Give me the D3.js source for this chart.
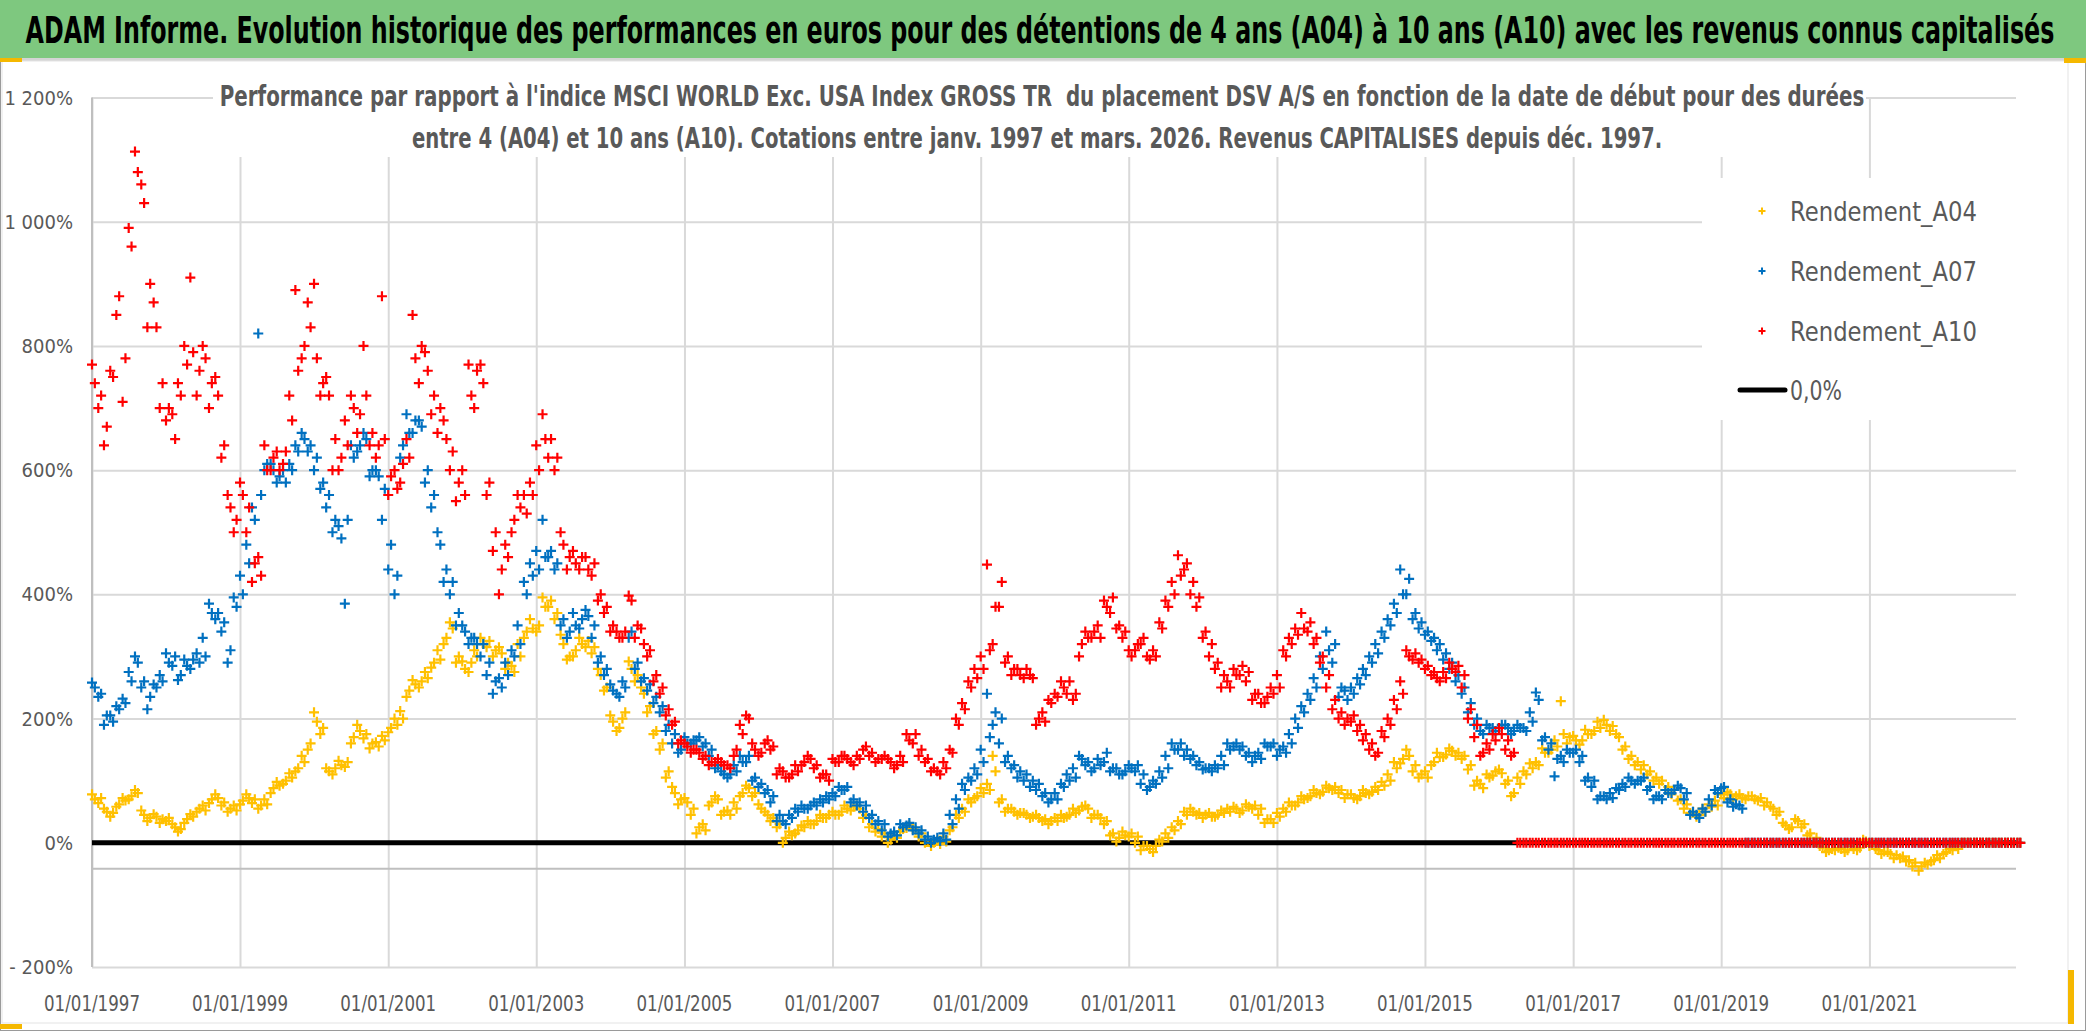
<!DOCTYPE html>
<html>
<head>
<meta charset="utf-8">
<script src="https://cdn.jsdelivr.net/npm/d3@7/dist/d3.min.js"></script>
<style>
body { margin: 0; background: #fff; }
svg { display: block; font-family: "Liberation Sans Narrow", "DejaVu Sans Condensed", sans-serif; }
</style>
</head>
<body>
<div class="chart"></div>
<script>
// two readings per month from Jan 1997: one on the 1st, one on the 15th
var firstMonth = new Date(1997, 0, 1)

var rendA04 = [
  70, 72, 50, 48, 62, 68, 75, 80, 45, 40, 42, 38,
  40, 25, 22, 38, 42, 55, 52, 70, 72, 65, 55, 52,
  68, 72, 70, 60, 62, 88, 92, 100, 105, 120, 130, 160,
  195, 185, 115, 120, 125, 130, 170, 180, 175, 160, 155, 165,
  185, 190, 200, 245, 255, 260, 265, 290, 295, 330, 345, 300,
  280, 290, 300, 320, 325, 310, 305, 290, 275, 300, 340, 345,
  350, 380, 390, 370, 320, 300, 310, 320, 325, 315, 270, 250,
  195, 185, 210, 280, 270, 240, 220, 180, 160, 115, 80, 70,
  65, 55, 25, 20, 65, 70, 50, 45, 55, 80, 88, 80,
  55, 45, 40, 30, 8, 12, 20, 25, 30, 35, 40, 45,
  45, 50, 55, 58, 55, 45, 30, 22, 15, 5, 8, 22,
  28, 20, 15, 5, 0, -2, 2, 25, 40, 50, 65, 75,
  80, 85, 115, 70, 55, 50, 48, 45, 42, 40, 38, 35,
  35, 40, 45, 48, 58, 55, 45, 40, 35, 15, 8, 12,
  15, 10, -5, -10, -5, 2, 8, 20, 30, 45, 50, 48,
  45, 42, 45, 48, 50, 55, 52, 58, 60, 55, 38, 32,
  42, 50, 60, 65, 70, 75, 80, 82, 88, 90, 85, 78,
  72, 75, 80, 82, 85, 92, 100, 120, 135, 140, 125, 110,
  105, 130, 138, 142, 148, 145, 140, 125, 100, 88, 105, 115,
  112, 100, 80, 95, 110, 120, 125, 145, 150, 155, 175, 170,
  165, 165, 175, 180, 185, 190, 188, 170, 155, 140, 130, 125,
  115, 105, 100, 90, 85, 70, 62, 50, 45, 50, 58, 60,
  72, 78, 75, 72, 75, 70, 72, 65, 55, 50, 28, 25,
  35, 30, 15, 8, -8, -12, -12, -10, -12, -10, -8, 2,
  0, -12, -14, -18, -20, -22, -28, -32, -38, -35, -28, -25,
  -15, -12, -10, 0, 0, 0, 0, 0, 0, 0, 0, 0,
  0
]
var rendA04Start = [
  78, 64, 55, 42, 58, 72, 70, 85, 52, 35, 46, 32,
  35, 30, 18, 32, 46, 50, 60, 64, 78, 60, 50, 60,
  62, 78, 64, 55, 70, 80, 98, 95, 112, 115, 140, 150,
  210, 175, 120, 110, 132, 122, 160, 190, 168, 152, 162, 172,
  178, 200, 212, 235, 262, 250, 275, 282, 310, 320, 355, 290,
  292, 275, 310, 330, 315, 300, 315, 280, 285, 320, 330, 360,
  340, 395, 380, 360, 335, 295, 300, 330, 315, 305, 280, 245,
  205, 180, 200, 292, 260, 250, 210, 175, 150, 105, 90, 62,
  72, 45, 15, 30, 60, 75, 45, 52, 65, 75, 92, 75,
  62, 50, 35, 25, 0, 18, 15, 28, 35, 30, 45, 40,
  50, 45, 60, 52, 60, 40, 25, 18, 10, 0, 12, 18,
  24, 22, 10, 0, -5, 3, 10, 20, 45, 55, 70, 72,
  88, 95, 140, 65, 50, 55, 45, 48, 40, 45, 35, 30,
  40, 45, 42, 55, 52, 60, 40, 45, 30, 12, 2, 18,
  10, 0, -12, -5, -15, 5, 15, 25, 35, 50, 55, 45,
  40, 48, 42, 52, 55, 58, 48, 62, 55, 45, 32, 38,
  48, 55, 65, 60, 75, 72, 85, 78, 92, 85, 80, 72,
  78, 70, 85, 78, 90, 98, 110, 130, 128, 150, 115, 105,
  115, 125, 145, 138, 152, 140, 135, 118, 92, 95, 110, 108,
  118, 95, 75, 105, 115, 128, 130, 152, 145, 165, 228, 160,
  172, 158, 182, 175, 195, 198, 180, 175, 150, 135, 125, 118,
  110, 100, 95, 85, 78, 68, 55, 48, 42, 55, 62, 68,
  78, 82, 70, 78, 70, 75, 68, 60, 58, 45, 32, 22,
  38, 25, 12, 0, -5, -15, -10, -8, -15, -5, -12, 5,
  -5, -10, -18, -15, -25, -25, -30, -38, -45, -32, -30, -20,
  -18, -10, -5, 0, 0, 0, 0, 0, 0, 0, 0, 0,
  0
]

var rendA07 = [
  250, 240, 205, 195, 215, 225, 260, 290, 260, 235, 250, 260,
  290, 300, 270, 285, 295, 290, 300, 370, 370, 355, 310, 380,
  400, 450, 520, 560, 610, 600, 590, 580, 600, 630, 650, 640,
  620, 580, 560, 520, 490, 520, 620, 640, 650, 600, 590, 570,
  480, 430, 640, 660, 680, 670, 600, 560, 480, 440, 420, 370,
  340, 330, 320, 320, 290, 260, 250, 270, 300, 320, 400, 430,
  440, 460, 470, 450, 360, 340, 350, 360, 365, 350, 300, 280,
  245, 235, 250, 340, 290, 265, 255, 235, 220, 190, 175, 150,
  160, 165, 170, 160, 150, 125, 110, 110, 115, 130, 140, 105,
  95, 85, 75, 45, 30, 40, 50, 55, 60, 60, 65, 70,
  75, 85, 90, 70, 65, 60, 45, 35, 30, 15, 12, 25,
  32, 25, 20, 10, 5, 3, 5, 30, 55, 85, 100, 110,
  130, 170, 210, 200, 140, 125, 115, 110, 100, 95, 80, 70,
  70, 90, 100, 105, 135, 130, 120, 125, 145, 120, 110, 115,
  120, 125, 110, 90, 95, 105, 120, 150, 160, 150, 140, 130,
  120, 115, 120, 125, 150, 160, 155, 145, 140, 135, 155, 160,
  150, 145, 160, 185, 210, 230, 250, 280, 310, 320, 250, 230,
  240, 255, 270, 290, 305, 330, 350, 370, 400, 425, 370, 355,
  340, 330, 320, 305, 290, 270, 250, 225, 200, 175, 185, 180,
  190, 185, 180, 185, 180, 195, 230, 170, 160, 135, 130, 145,
  150, 140, 105, 100, 75, 70, 72, 85, 90, 100, 100, 105,
  90, 75, 70, 80, 85, 88, 80, 50, 40, 50, 60, 80,
  90, 70, 62, 55, 0, 0, 0, 0, 0, 0, 0, 0,
  0, 0, 0, 0, 0, 0, 0, 0, 0, 0, 0, 0,
  0, 0, 0, 0, 0, 0, 0, 0, 0, 0, 0, 0,
  0, 0, 0, 0, 0, 0, 0, 0, 0, 0, 0, 0,
  0
]
var rendA07Start = [
  258, 235, 190, 205, 220, 232, 275, 300, 250, 215, 255, 270,
  305, 285, 262, 295, 280, 305, 330, 385, 360, 340, 290, 395,
  430, 480, 540, 820, 600, 610, 580, 600, 610, 640, 660, 630,
  600, 570, 540, 500, 510, 385, 640, 630, 660, 590, 600, 520,
  440, 400, 620, 690, 660, 680, 580, 540, 500, 420, 400, 350,
  350, 320, 330, 300, 270, 240, 265, 290, 310, 350, 420, 450,
  470, 520, 460, 440, 350, 330, 370, 345, 375, 330, 290, 270,
  255, 240, 260, 330, 280, 260, 245, 225, 210, 180, 160, 145,
  170, 160, 165, 155, 140, 120, 115, 105, 125, 140, 130, 100,
  90, 80, 65, 35, 35, 45, 55, 60, 55, 65, 70, 75,
  80, 90, 85, 65, 60, 50, 40, 30, 20, 10, 18, 30,
  28, 20, 15, 5, 0, 8, 15, 45, 70, 95, 105, 120,
  150, 240, 190, 160, 130, 120, 105, 100, 90, 85, 75, 65,
  80, 95, 110, 120, 140, 125, 115, 135, 130, 115, 120, 110,
  125, 115, 95, 85, 100, 115, 140, 160, 150, 140, 135, 125,
  118, 120, 125, 140, 160, 155, 150, 140, 130, 145, 160, 155,
  140, 155, 175, 200, 220, 240, 265, 300, 340, 290, 235, 245,
  250, 265, 280, 300, 320, 340, 360, 385, 440, 400, 360, 345,
  335, 325, 310, 295, 280, 260, 240, 210, 190, 180, 190, 185,
  185, 190, 175, 190, 185, 210, 242, 165, 150, 107, 140, 150,
  145, 130, 100, 90, 70, 75, 80, 88, 95, 105, 95, 100,
  85, 70, 75, 85, 80, 92, 70, 45, 45, 55, 70, 85,
  88, 65, 58, 60, 0, 0, 0, 0, 0, 0, 0, 0,
  0, 0, 0, 0, 0, 0, 0, 0, 0, 0, 0, 0,
  0, 0, 0, 0, 0, 0, 0, 0, 0, 0, 0, 0,
  0, 0, 0, 0, 0, 0, 0, 0, 0, 0, 0, 0,
  0
]

var rendA10 = [
  740, 720, 670, 750, 880, 780, 960, 1080, 1030, 900, 830, 740,
  700, 650, 720, 770, 790, 760, 780, 740, 720, 640, 540, 520,
  560, 540, 450, 430, 600, 620, 600, 630, 680, 760, 800, 830,
  780, 740, 720, 650, 620, 640, 700, 690, 720, 660, 640, 650,
  590, 570, 610, 620, 780, 800, 760, 720, 700, 650, 630, 580,
  560, 720, 760, 740, 580, 500, 440, 460, 520, 540, 530, 560,
  600, 650, 650, 620, 480, 460, 450, 460, 440, 450, 400, 380,
  350, 330, 340, 390, 350, 320, 310, 270, 250, 215, 195, 165,
  155, 150, 145, 140, 130, 135, 125, 120, 150, 175, 200, 150,
  145, 165, 155, 120, 105, 110, 115, 130, 135, 125, 110, 100,
  130, 140, 135, 125, 135, 155, 145, 135, 140, 130, 125, 130,
  165, 175, 150, 135, 120, 110, 120, 145, 190, 215, 250, 265,
  280, 310, 380, 420, 300, 280, 270, 280, 265, 200, 195, 225,
  235, 250, 260, 240, 320, 330, 340, 330, 380, 395, 350, 340,
  300, 320, 330, 295, 300, 345, 380, 400, 430, 450, 420, 395,
  340, 320, 290, 270, 250, 270, 285, 275, 240, 225, 235, 240,
  250, 300, 320, 335, 345, 355, 330, 300, 270, 230, 210, 200,
  205, 190, 175, 160, 145, 170, 190, 215, 240, 300, 305, 295,
  285, 275, 260, 265, 280, 285, 270, 215, 190, 145, 150, 165,
  175, 165, 145, 0, 0, 0, 0, 0, 0, 0, 0, 0,
  0, 0, 0, 0, 0, 0, 0, 0, 0, 0, 0, 0,
  0, 0, 0, 0, 0, 0, 0, 0, 0, 0, 0, 0,
  0, 0, 0, 0, 0, 0, 0, 0, 0, 0, 0, 0,
  0, 0, 0, 0, 0, 0, 0, 0, 0, 0, 0, 0,
  0, 0, 0, 0, 0, 0, 0, 0, 0, 0, 0, 0,
  0, 0, 0, 0, 0, 0, 0, 0, 0, 0, 0, 0,
  0
]
var rendA10Start = [
  770, 700, 640, 760, 850, 710, 990, 1113, 1060, 830, 870, 700,
  680, 690, 740, 800, 910, 720, 800, 700, 750, 620, 560, 500,
  580, 500, 420, 460, 640, 600, 630, 610, 720, 890, 780, 870,
  900, 720, 750, 600, 600, 680, 720, 660, 800, 640, 620, 880,
  560, 600, 580, 650, 850, 740, 790, 690, 660, 680, 600, 550,
  600, 770, 700, 770, 560, 470, 400, 480, 500, 560, 560, 580,
  640, 690, 620, 600, 500, 440, 470, 440, 460, 430, 390, 370,
  340, 340, 330, 398, 330, 345, 300, 260, 240, 205, 190, 160,
  160, 145, 150, 135, 125, 130, 130, 125, 140, 190, 205, 160,
  140, 160, 150, 110, 115, 105, 125, 125, 140, 120, 105, 110,
  135, 130, 140, 130, 140, 150, 140, 130, 135, 135, 120, 140,
  175, 160, 140, 130, 115, 115, 130, 150, 200, 225, 260, 280,
  300, 448, 320, 380, 290, 270, 280, 265, 270, 190, 210, 230,
  240, 260, 240, 230, 300, 340, 330, 350, 390, 370, 345, 330,
  310, 310, 320, 300, 310, 355, 390, 420, 463, 440, 400, 380,
  330, 300, 280, 250, 260, 280, 270, 260, 230, 240, 225, 250,
  270, 310, 330, 345, 370, 340, 320, 290, 250, 215, 200, 190,
  195, 180, 165, 150, 140, 180, 200, 230, 260, 310, 295, 290,
  280, 270, 265, 275, 290, 275, 250, 200, 170, 140, 160, 175,
  185, 150, 140, 0, 0, 0, 0, 0, 0, 0, 0, 0,
  0, 0, 0, 0, 0, 0, 0, 0, 0, 0, 0, 0,
  0, 0, 0, 0, 0, 0, 0, 0, 0, 0, 0, 0,
  0, 0, 0, 0, 0, 0, 0, 0, 0, 0, 0, 0,
  0, 0, 0, 0, 0, 0, 0, 0, 0, 0, 0, 0,
  0, 0, 0, 0, 0, 0, 0, 0, 0, 0, 0, 0,
  0, 0, 0, 0, 0, 0, 0, 0, 0, 0, 0, 0,
  0
]

var zeroLine = [0, 0]
var yTicks = [-200, 0, 200, 400, 600, 800, 1000, 1200]
var xTickYears = [1997, 1999, 2001, 2003, 2005, 2007, 2009, 2011, 2013, 2015, 2017, 2019, 2021]
var seriesNames = ['Rendement_A04', 'Rendement_A07', 'Rendement_A10']
var seriesColors = ['#FFC000', '#0070C0', '#FF0000']

var titleText = 'ADAM Informe. Evolution historique des performances en euros pour des détentions de 4 ans (A04) à 10 ans (A10) avec les revenus connus capitalisés'
var subLine1 = "Performance par rapport à l'indice MSCI WORLD Exc. USA Index GROSS TR  du placement DSV A/S en fonction de la date de début pour des durées"
var subLine2 = 'entre 4 (A04) et 10 ans (A10). Cotations entre janv. 1997 et mars. 2026. Revenus CAPITALISES depuis déc. 1997.'

var W = 2086, H = 1031
var plot = {left: 92, right: 2016, top: 97.5, bottom: 967}

function toPoints(startVals, midVals){
  var pts = []
  midVals.forEach(function(v, i){
    var m = d3.timeMonth.offset(firstMonth, i)
    pts.push({date: m, value: startVals[i]})
    pts.push({date: d3.timeDay.offset(m, 14), value: v})
  })
  return pts
}
var series = [[rendA04Start, rendA04], [rendA07Start, rendA07], [rendA10Start, rendA10]].map(function(p, s){
  return {name: seriesNames[s], color: seriesColors[s], pts: toPoints(p[0], p[1])}
})

var svg = d3.select('.chart').append('svg')
  .attr('width', W).attr('height', H)

// shrink the font until the text has the wanted width, then stretch it back up
// vertically so the glyphs keep the height of baseSize (narrow Calibri look)
function fitText(t, x, y, width, baseSize){
  t.style('font-size', baseSize + 'px')
  var len = t.node().getComputedTextLength()
  var fs = baseSize * width / len
  t.style('font-size', fs + 'px')
    .attr('x', 0).attr('y', 0)
    .attr('transform', 'translate(' + x + ',' + y + ') scale(1,' + (baseSize / fs) + ')')
  return t
}

// frame + title band
svg.append('rect').attr('x', 0.5).attr('y', 0.5).attr('width', W - 1).attr('height', H - 1)
  .attr('fill', '#fff').attr('stroke', '#9a9a9a')
svg.append('rect').attr('x', 0).attr('y', 0).attr('width', W).attr('height', 58).attr('fill', '#7ec87f')
svg.append('rect').attr('x', 0).attr('y', 58).attr('width', W).attr('height', 3).attr('fill', '#d4d4d4')
svg.append('rect').attr('x', 2).attr('y', 61).attr('width', 2066).attr('height', 962)
  .attr('fill', 'none').attr('stroke', '#e3e3e3')
svg.append('rect').attr('x', 0).attr('y', 58).attr('width', 22).attr('height', 4).attr('fill', '#f5b800')
svg.append('rect').attr('x', 0).attr('y', 1024).attr('width', 22).attr('height', 5).attr('fill', '#f5b800')
svg.append('rect').attr('x', 2064).attr('y', 58).attr('width', 22).attr('height', 5).attr('fill', '#f5b800')
svg.append('rect').attr('x', 2068).attr('y', 970).attr('width', 6).attr('height', 54).attr('fill', '#f5b800')

var title = svg.append('text')
  .attr('text-anchor', 'middle')
  .style('font-weight', 'bold').style('fill', '#000')
  .text(titleText)
fitText(title, 1040, 43, 2030, 38)

// scales
var x = d3.scaleTime()
  .domain([new Date(1997, 0, 1), new Date(2022, 11, 25)])
  .range([plot.left, plot.right])
var y = d3.scaleLinear()
  .domain([-200, 1200])
  .range([plot.bottom, plot.top])

var g = svg.append('g')

// gridlines
var xTicks = xTickYears.map(function(yr){ return new Date(yr, 0, 1) })
var xAxis = d3.axisBottom(x).tickValues(xTicks).tickSize(-(plot.bottom - plot.top)).tickFormat('')
g.append('g').attr('class', 'x grid')
  .attr('transform', 'translate(0,' + plot.bottom + ')')
  .call(xAxis)
  .call(function(s){ s.select('.domain').remove() })
  .selectAll('line').attr('stroke', '#d9d9d9').attr('stroke-width', 2)

var yAxis = d3.axisLeft(y).tickValues(yTicks).tickSize(-(plot.right - plot.left)).tickFormat('')
g.append('g').attr('class', 'y grid')
  .attr('transform', 'translate(' + plot.left + ',0)')
  .call(yAxis)
  .call(function(s){ s.select('.domain').remove() })
  .selectAll('line').attr('stroke', '#d9d9d9').attr('stroke-width', 2)

// axis lines (vertical value axis and horizontal category axis)
g.append('line').attr('x1', plot.left).attr('x2', plot.left)
  .attr('y1', plot.top).attr('y2', plot.bottom)
  .attr('stroke', '#bfbfbf').attr('stroke-width', 2)
g.append('line').attr('x1', plot.left).attr('x2', plot.right)
  .attr('y1', y(-42)).attr('y2', y(-42))
  .attr('stroke', '#bfbfbf').attr('stroke-width', 2)

// subtitle box (hides gridlines behind it)
svg.append('rect').attr('x', 213).attr('y', 64).attr('width', 1653).attr('height', 93).attr('fill', '#fff')
var sub = svg.append('g').style('font-weight', 'bold').style('fill', '#595959')
fitText(sub.append('text').attr('text-anchor', 'middle').style('white-space', 'pre').text(subLine1),
  1042, 106, 1645, 29)
fitText(sub.append('text').attr('text-anchor', 'middle').text(subLine2),
  1037, 148, 1251, 29)

// y labels
var fmt = function(v){
  var s = d3.format(',')(Math.abs(v)).replace(/,/g, '\u00a0') + '%'
  return v < 0 ? '-\u00a0' + s : s
}
svg.append('g').selectAll('text').data(yTicks).enter().append('text')
  .attr('x', 73).attr('y', function(d){ return y(d) + 7 })
  .attr('text-anchor', 'end')
  .style('font-size', '20px').style('fill', '#595959')
  .text(fmt)

// x labels
svg.append('g').selectAll('text').data(xTicks).enter().append('text')
  .attr('x', function(d){ return x(d) }).attr('y', 1011)
  .attr('text-anchor', 'middle')
  .attr('textLength', 96).attr('lengthAdjust', 'spacingAndGlyphs')
  .style('font-size', '21px').style('fill', '#595959')
  .text(d3.timeFormat('%d/%m/%Y'))

// 0,0% line
var line = d3.line().x(function(d){ return x(d.date) }).y(function(d){ return y(d.value) })
var zeroPts = [{date: x.domain()[0], value: zeroLine[0]}, {date: x.domain()[1], value: zeroLine[1]}]
g.append('path').datum(zeroPts).attr('d', line)
  .attr('fill', 'none').attr('stroke', '#000').attr('stroke-width', 5)

// scatter series with + markers
var cross = 'M-5,0H5M0,-5V5'
series.forEach(function(s){
  g.append('g').selectAll('path').data(s.pts).enter().append('path')
    .attr('d', cross)
    .attr('transform', function(d){ return 'translate(' + x(d.date) + ',' + y(d.value) + ')' })
    .attr('stroke', s.color).attr('stroke-width', 2.2).attr('fill', 'none')
})

// legend
svg.append('rect').attr('x', 1702).attr('y', 178).attr('width', 318).attr('height', 242).attr('fill', '#fff')
var leg = svg.append('g').style('font-family', '"DejaVu Sans", sans-serif').style('fill', '#595959')
series.forEach(function(s, i){
  var cy = 211 + i * 60
  leg.append('path').attr('d', 'M-3.5,0H3.5M0,-3.5V3.5')
    .attr('transform', 'translate(1762,' + cy + ')')
    .attr('stroke', s.color).attr('stroke-width', 2).attr('fill', 'none')
  fitText(leg.append('text').text(s.name), 1790, cy + 10, 187, 27)
})
leg.append('line').attr('x1', 1740).attr('x2', 1785).attr('y1', 390).attr('y2', 390)
  .attr('stroke', '#000').attr('stroke-width', 5).attr('stroke-linecap', 'round')
fitText(leg.append('text').text('0,0%'), 1790, 400, 52, 27)
</script>
</body>
</html>
